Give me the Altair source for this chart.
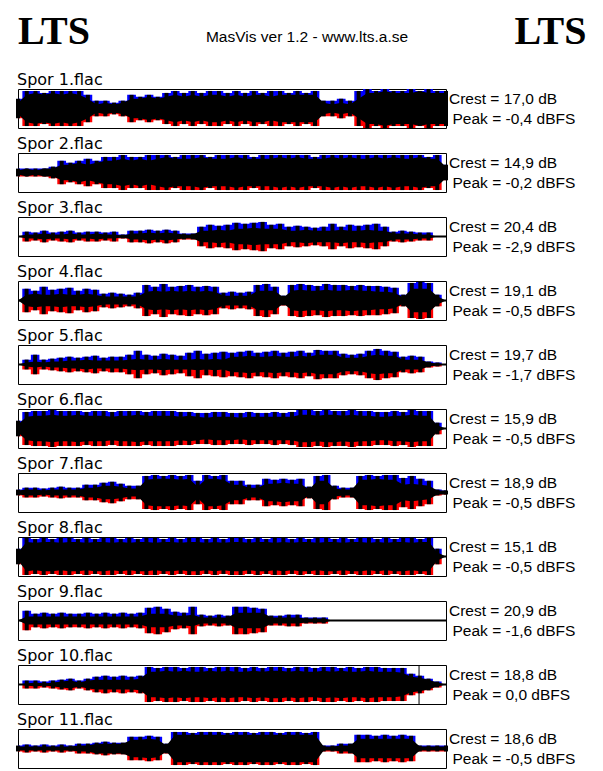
import altair as alt
import pandas as pd

# ---------------- data ----------------
track_names = ["Spor 1.flac", "Spor 2.flac", "Spor 3.flac", "Spor 4.flac", "Spor 5.flac",
               "Spor 6.flac", "Spor 7.flac", "Spor 8.flac", "Spor 9.flac", "Spor 10.flac",
               "Spor 11.flac"]
crest_db = ["17,0", "14,9", "20,4", "19,1", "19,7", "15,9", "18,9", "15,1", "20,9", "18,8", "18,6"]
peak_dbfs = ["-0,4", "-0,2", "-2,9", "-0,5", "-1,7", "-0,5", "-0,5", "-0,5", "-1,6", "0,0", "-0,5"]

# envelope of each track (0..10 = centre..box edge); "body" = black mass, "peak" = blue/red tips
body1 = [3,7,8,7,8,7,8,7,5,2,3,2,3,5,5,6,5,6,7,6,7,6,7,7,6,7,6,7,7,6,7,7,7,7,7,3,2,3,2,5,8,8,9,8,8,8,9,8,8,8]
peak1 = [5,9,9,8,9,9,9,9,7,4,4,3,4,7,6,7,6,8,9,8,9,8,9,9,8,9,8,9,8,9,9,8,9,8,9,4,4,5,4,9,10,9,10,9,9,10,9,10,9,9]
body2 = [1,2,1,2,2,4,4,5,4,5,6,6,7,6,7,6,7,8,7,7,7,8,7,7,7,8,7,7,7,7,8,7,8,7,7,7,8,7,8,7,7,8,7,8,7,7,8,7,7,3]
peak2 = [2,2,2,2,3,6,5,6,7,6,8,8,9,8,8,9,9,9,8,9,9,9,8,9,9,9,9,8,9,9,9,9,9,9,8,9,9,9,9,9,9,9,9,9,9,9,9,8,9,4]
body3 = [0,1,1,1.5,1,1,1.5,1,1,1.5,1,1,0.5,1.5,1.5,2,1.5,2,1.5,1,1,3,3,3.5,3,4,4,4.5,4,4,4,3,3,3.5,3,3,3,3.5,3,3,3.5,3,3,1.5,1.5,1.5,1,1,0,0]
peak3 = [0,2.5,2,3,2,2.5,3,2,2.5,2.5,2,2.5,1,3,3,3.5,3,3.5,3,1.5,1.5,5,6,5.5,6,7,6.5,7,7.5,6,6.5,5,5.5,5,4.5,5,6.5,5,6,5.5,6,6.5,5,2.5,3,2.5,2,2,0,0]
body4 = [0,3,3.5,3,3,3.5,3,3,3.5,3,2,2,2,2,2,4.5,5,4.5,5,4.5,5,4.5,5,4.5,2.5,2.5,2.5,2.5,5,5,5,1.5,5,5.5,5,5,5.5,5,5,5.5,5,5,4.5,4.5,4,1.5,6,6,6,2,0]
peak4 = [0,6,5,7,5.5,6,6.5,5,6,5.5,3.5,4,3.5,3,4,8,7,8.5,7,7.5,8,7,7.5,7,4,4.5,4,4.5,8,8.5,7,2.5,8,8.5,8,7.5,8.5,8,8,7.5,8,7.5,7.5,7,6.5,3,9,9.5,9,3,0]
body5 = [0,1,1.5,1,1.5,1.5,2,2,2.5,2,2,2,2,2.5,3,2.5,2.5,3,2.5,2.5,2.5,3,2.5,3,2.5,4,4,4.5,4,4,4.5,4,4,4.5,4,5,5,5,3.5,3.5,3.5,4.5,5,4.5,4.5,2.5,2.5,2.5,1,0.5,0]
peak5 = [0,2.5,5,2.5,3,3.5,4,3.5,4,4.5,3.5,4,4,5,7,5,4.5,5.5,5,4.5,6,7,5.5,6,6.5,6,6.5,7,6,6.5,7,6,6.5,7,6,7.5,7,7,5.5,5,5.5,7,8,7,6.5,4,4.5,4,1.5,1,0]
body6 = [2,6,6.5,6.5,7,6.5,6.5,7,6.5,6.5,6.5,6,6.5,6.5,7,6.5,6.5,6.5,6.5,6,6.5,6,5.5,6,6,6,5.5,6,6,6,6,6,6,7,7,6.5,7,7,6.5,7,6.5,6.5,6,6,6.5,6.5,7,6.5,6.5,1.5,0]
peak6 = [4,8.5,9,9,9.5,9,9,9,8.5,9,9,8.5,9,9,9,8.5,9,9,9,8.5,8.5,8,8,8.5,8.5,8,8,8.5,8,8,8.5,8,8.5,9.5,9.5,9,9.5,9,9,9.5,9,9,8.5,8.5,9,8.5,9.5,9,9,3,0]
body7 = [1,1.5,1.5,1,1.5,1.5,1.5,1.5,2.5,2.5,3.5,3.5,3,2,2,6.5,7,7,7,6.5,7,3,7,7,6.5,4,4,2.5,2.5,4.5,4.5,5,4.5,4.5,1.5,6,6,2,1.5,1.5,6.5,6.5,7,6.5,6.5,4,4.5,4,3.5,1,1]
peak7 = [1.5,2.5,2.5,2,2.5,3,2.5,2.5,4,4,5,5.5,4.5,3.5,3.5,8.5,9,8.5,9,8.5,9,6,9,8.5,9,6,6,4,4,7,6.5,7,6.5,7,3,8.5,9,3.5,2.5,2.5,8.5,9,8.5,9,9,7.5,8.5,7,6,1.5,1]
body8 = [2,7.5,7,7.5,7.5,7,7.5,7.5,7,7.5,7.5,7,7.5,7,7.5,7.5,7,7.5,7.5,7,7.5,7.5,7,7.5,7,7.5,7.5,7,7.5,7.5,7,7.5,7,7.5,7.5,7,7.5,7.5,7,7.5,7.5,7,7.5,7,7.5,7.5,7,7.5,7.5,2,0]
peak8 = [4,9.5,9,9.5,9,9.5,9.5,9,9.5,9,9.5,9.5,9,9.5,9,9.5,9.5,9,9.5,9,9.5,9.5,9,9.5,9,9.5,9.5,9,9.5,9,9.5,9.5,9,9.5,9,9.5,9.5,9,9.5,9,9.5,9.5,9,9.5,9,9.5,9.5,9,9.5,4,0]
body9 = [0,2,2,2,2,2,2,2,2,2,2,2,2,2,2,3.5,3.5,3.5,2.5,2.5,3,1.5,1.5,1.5,1.5,4,4,4,4,1.5,1.5,1.5,1.5,1,1,1,
         0,0,0,0,0,0,0,0,0,0,0,0,0,0]
peak9 = [0,5,3.5,4,3.5,4,3.5,3.5,4,3.5,4,3.5,4,3.5,4,6.5,7,6,4.5,4,7,3,2.5,3,2.5,7,7,6.5,6,2.5,2.5,3,3,1.5,1.5,1.5,
         0,0,0,0,0,0,0,0,0,0,0,0,0,0]
body10 = [0,0.5,1,0.5,1,1.5,2,1,2,2.5,2.5,2.5,2.5,2.5,3,6.5,6.5,7,6.5,7,6.5,6.5,7,6.5,7,6.5,6.5,7,6.5,7,7,6.5,7,6.5,6.5,7,6.5,7,6.5,6.5,7,6.5,6.5,6.5,6,4,3.5,2.5,1,0]
peak10 = [0,2,2,1.5,2,2.5,3,2,3,4,4.5,4,4.5,4,4.5,9,8.5,9,9,8.5,9,9,8.5,9,9,9,8.5,9,8.5,9,9,8.5,9,9,8.5,9,9,8.5,9,8.5,9,9,8.5,8.5,8.5,5.5,4.5,3,1.5,0]
body11 = [1,1,1,1,1,1,1,1.5,1.5,2.5,2.5,2.5,2.5,4.5,4.5,5,4.5,1.5,7,7,7,7,7,7,7,7,7,7,7,7,7,7,7,7,7,1,1,1.5,1.5,5,5,5,5,5,5,5,1,1,1,1]
peak11 = [1.5,2,1.5,2,1.5,2,1.5,2.5,2.5,3,3.5,3,3,6,6,6.5,6,2.5,8.5,8.5,8,8.5,8.5,8.5,8,8.5,8.5,8,8.5,8.5,8,8.5,8.5,8,8.5,1.5,1.5,2.5,2.5,7,7,6.5,7,6.5,7,6.5,1.5,1.5,1.5,1.5]

bodies = [body1, body2, body3, body4, body5, body6, body7, body8, body9, body10, body11]
peaks = [peak1, peak2, peak3, peak4, peak5, peak6, peak7, peak8, peak9, peak10, peak11]

# track 10 has a marker line near its end (fraction of the track length)
markers = {9: 0.937}

# ---------------- chart ----------------
PW, PH = 428, 39
LABEL_FONT = "DejaVu Sans"
TEXT_FONT = "Liberation Sans"

xs = alt.Scale(domain=[0, 1], nice=False, zero=False)
ys = alt.Scale(domain=[-10, 10], nice=False)


def panel(k):
    b, p = bodies[k], peaks[k]
    n = len(b)
    df = pd.DataFrame({
        "pos": [i / (n - 1) for i in range(n)],
        "body": b,
        "peak": p[:n] + [0] * max(0, n - len(p)),
    })
    df["nbody"] = -df["body"]
    df["npeak"] = -df["peak"]
    df["zero"] = 0.0
    base = alt.Chart(df)
    X = alt.X("pos:Q", scale=xs, axis=None)
    blue = base.mark_area(color="#0000ff", interpolate="step").encode(
        x=X, y=alt.Y("peak:Q", scale=ys, axis=None), y2="zero:Q")
    red = base.mark_area(color="#ff0000", interpolate="step").encode(
        x=X, y=alt.Y("npeak:Q", scale=ys, axis=None), y2="zero:Q")
    black = base.mark_area(color="#000000", interpolate="linear").encode(
        x=X, y=alt.Y("body:Q", scale=ys, axis=None), y2="nbody:Q")
    spikes = base.mark_rule(color="#000000", strokeWidth=4).encode(
        x=X, y=alt.Y("peak:Q", scale=ys, axis=None), y2="npeak:Q")
    centre = alt.Chart(pd.DataFrame({"z": [0.0]})).mark_rule(color="black", strokeWidth=2).encode(
        y=alt.Y("z:Q", scale=ys, axis=None),
        x=alt.value(0),
        x2=alt.value(PW),
    )
    layers = [blue, red, black, spikes, centre]
    if k in markers:
        layers.append(
            alt.Chart(pd.DataFrame({"m": [markers[k]]})).mark_rule(color="black", strokeWidth=1).encode(
                x=alt.X("m:Q", scale=xs, axis=None)
            )
        )
    txt = pd.DataFrame({
        "label": [track_names[k]],
        "crest": ["Crest = " + crest_db[k] + " dB"],
        "peakt": ["Peak = " + peak_dbfs[k] + " dBFS"],
    })
    tb = alt.Chart(txt)
    layers.append(tb.mark_text(font=LABEL_FONT, fontSize=16, align="left", baseline="alphabetic",
                               color="black").encode(text="label:N", x=alt.value(-1), y=alt.value(-4)))
    layers.append(tb.mark_text(font=TEXT_FONT, fontSize=15.5, align="left", baseline="alphabetic",
                               color="black").encode(text="crest:N", x=alt.value(431), y=alt.value(15)))
    layers.append(tb.mark_text(font=TEXT_FONT, fontSize=15.5, align="left", baseline="alphabetic",
                               color="black").encode(text="peakt:N", x=alt.value(434.5), y=alt.value(35)))
    return alt.layer(*layers).properties(width=PW, height=PH)


hdr = pd.DataFrame({"l": ["LTS"], "m": ["MasVis ver 1.2 - www.lts.a.se"]})
hb = alt.Chart(hdr)
header = alt.layer(
    hb.mark_text(font="Liberation Serif", fontWeight="bold", fontSize=40, align="left",
                 baseline="alphabetic", color="black").encode(text="l:N", x=alt.value(0), y=alt.value(35.3)),
    hb.mark_text(font=TEXT_FONT, fontSize=15.5, align="center", baseline="alphabetic",
                 color="black").encode(text="m:N", x=alt.value(289), y=alt.value(33)),
    hb.mark_text(font="Liberation Serif", fontWeight="bold", fontSize=40, align="left",
                 baseline="alphabetic", color="black").encode(text="l:N", x=alt.value(496.5), y=alt.value(35.3)),
).properties(width=PW, height=55, view=alt.ViewBackground(stroke="transparent"))

chart = alt.vconcat(header, *[panel(k) for k in range(len(bodies))], spacing=25, bounds="flush").properties(
    padding={"left": 7, "top": 0, "right": 0, "bottom": 0},
    background="white",
).configure_view(stroke="black", strokeWidth=1)

chart.save("out.html", embed_options={"renderer": "svg", "actions": False})
